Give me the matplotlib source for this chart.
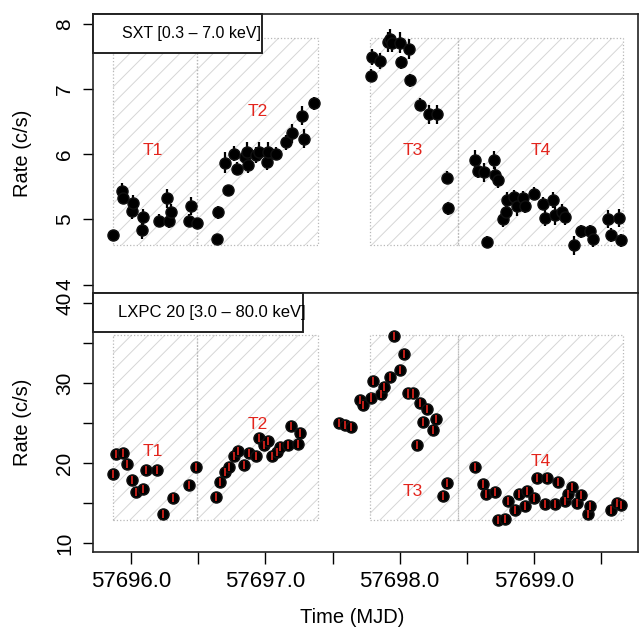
import numpy as np
import matplotlib
matplotlib.use("Agg")
import matplotlib.pyplot as plt
from matplotlib.patches import Rectangle

plt.rcParams['font.family'] = ['Liberation Sans', 'DejaVu Sans']
plt.rcParams['hatch.linewidth'] = 0.7

# SXT light curve (0.3 - 7.0 keV)
sxt_t = [57695.868, 57695.930, 57695.943, 57696.005, 57696.017, 57696.080, 57696.090,
         57696.210, 57696.270, 57696.285, 57696.300, 57696.430, 57696.447, 57696.490,
         57696.640, 57696.650, 57696.700, 57696.720, 57696.770, 57696.790, 57696.850,
         57696.860, 57696.870, 57696.930, 57696.950, 57697.010, 57697.020, 57697.080,
         57697.150, 57697.200, 57697.275, 57697.290, 57697.360,
         57697.785, 57697.797, 57697.850, 57697.910, 57697.930, 57697.945, 57698.000,
         57698.010, 57698.070, 57698.080, 57698.150, 57698.220, 57698.280, 57698.350,
         57698.360, 57698.560, 57698.580, 57698.630, 57698.650, 57698.700, 57698.710,
         57698.730, 57698.770, 57698.790, 57698.800, 57698.850, 57698.870, 57698.920,
         57698.930, 57699.000, 57699.070, 57699.080, 57699.140, 57699.160, 57699.210,
         57699.230, 57699.300, 57699.350, 57699.420, 57699.440, 57699.550, 57699.570,
         57699.630, 57699.645]
sxt_rate = [4.76, 5.44, 5.33, 5.13, 5.25, 4.84, 5.04,
            4.98, 5.32, 4.97, 5.12, 4.98, 5.20, 4.94,
            4.70, 5.11, 5.87, 5.45, 6.01, 5.78, 5.96,
            6.04, 5.83, 5.99, 6.04, 5.88, 6.04, 6.01,
            6.18, 6.32, 6.59, 6.24, 6.78,
            7.20, 7.49, 7.43, 7.72, 7.77, 7.70, 7.71,
            7.41, 7.61, 7.13, 6.76, 6.61, 6.61, 5.64,
            5.17, 5.91, 5.74, 5.72, 4.66, 5.91, 5.68,
            5.60, 5.00, 5.11, 5.30, 5.35, 5.20, 5.32,
            5.21, 5.39, 5.24, 5.02, 5.30, 5.07, 5.12,
            5.03, 4.60, 4.82, 4.82, 4.70, 5.00, 4.76,
            5.02, 4.68]
sxt_err = [0.08, 0.12, 0.10, 0.12, 0.12, 0.14, 0.12,
           0.10, 0.15, 0.10, 0.12, 0.10, 0.14, 0.08,
           0.08, 0.10, 0.16, 0.08, 0.12, 0.10, 0.14,
           0.14, 0.12, 0.12, 0.14, 0.12, 0.14, 0.10,
           0.12, 0.15, 0.15, 0.14, 0.10,
           0.10, 0.12, 0.12, 0.15, 0.15, 0.14, 0.16,
           0.10, 0.15, 0.10, 0.10, 0.14, 0.14, 0.10,
           0.10, 0.16, 0.10, 0.14, 0.08, 0.14, 0.12,
           0.12, 0.12, 0.12, 0.12, 0.10, 0.15, 0.12,
           0.12, 0.10, 0.10, 0.12, 0.12, 0.15, 0.12,
           0.12, 0.14, 0.10, 0.10, 0.12, 0.14, 0.10,
           0.14, 0.10]

# LAXPC 20 light curve (3.0 - 80.0 keV)
lx_t = [57695.868, 57695.890, 57695.940, 57695.970, 57696.010, 57696.040, 57696.090,
        57696.110, 57696.190, 57696.240, 57696.310, 57696.430, 57696.480,
        57696.630, 57696.660, 57696.700, 57696.730, 57696.770, 57696.800, 57696.840,
        57696.880, 57696.930, 57696.950, 57696.990, 57697.020, 57697.050, 57697.085,
        57697.110, 57697.170, 57697.190, 57697.245, 57697.260,
        57697.550, 57697.590, 57697.635, 57697.705, 57697.730, 57697.785, 57697.800,
        57697.860, 57697.880, 57697.930, 57697.955, 57698.000, 57698.030, 57698.060,
        57698.100, 57698.130, 57698.150, 57698.170, 57698.200, 57698.245, 57698.270,
        57698.320, 57698.350,
        57698.560, 57698.620, 57698.640, 57698.710, 57698.735, 57698.785, 57698.810,
        57698.860, 57698.885, 57698.930, 57698.950, 57699.000, 57699.020, 57699.080,
        57699.100, 57699.160, 57699.180, 57699.230, 57699.250, 57699.280, 57699.320,
        57699.350, 57699.400, 57699.420, 57699.570, 57699.615, 57699.645]
lx_rate = [18.6, 21.1, 21.3, 19.9, 17.9, 16.4, 16.75,
           19.2, 19.2, 13.6, 15.6, 17.3, 19.5,
           15.8, 17.6, 18.9, 19.5, 20.9, 21.5, 19.75,
           21.3, 20.9, 23.2, 22.3, 22.8, 20.9, 21.4,
           22.0, 22.25, 24.6, 22.4, 23.8,
           25.0, 24.75, 24.5, 27.9, 27.25, 28.2, 30.3,
           28.6, 29.5, 30.7, 35.9, 31.6, 33.6, 28.7,
           28.7, 22.25, 27.5, 25.2, 26.8, 24.1, 25.5,
           15.9, 17.5,
           19.5, 17.4, 16.1, 16.4, 12.9, 13.0, 15.3,
           14.1, 16.2, 14.6, 16.5, 15.6, 18.1, 14.9,
           18.2, 14.9, 17.7, 15.3, 16.2, 17.0, 15.0,
           16.0, 13.7, 14.6, 14.2, 15.0, 14.8]
lx_err = [0.5] * len(lx_t)

regions = ["T1", "T2", "T3", "T4"]
reg_start = [57695.866, 57696.49, 57697.78, 57698.435]
reg_end = [57696.49, 57697.39, 57698.435, 57699.66]
sxt_box = [4.61, 7.78]
lx_box = [12.9, 36.0]
sxt_lab = [(57696.16, 6.05), (57696.94, 6.65), (57698.10, 6.05), (57699.05, 6.05)]
lx_lab = [(57696.16, 21.5), (57696.94, 24.8), (57698.10, 16.5), (57699.05, 20.2)]

fig = plt.figure(figsize=(6.42, 6.28), dpi=100)
ax1 = fig.add_axes([0.1449, 0.5334, 0.849, 0.4443])
ax2 = fig.add_axes([0.1449, 0.1210, 0.849, 0.4124], sharex=ax1)

red = '#e3241c'


def shade(ax, ylo, yhi):
    for a, b in zip(reg_start, reg_end):
        ax.add_patch(Rectangle((a, ylo), b - a, yhi - ylo, facecolor='none',
                               edgecolor='#d6d6d6', hatch='//', lw=0, zorder=0))
        ax.add_patch(Rectangle((a, ylo), b - a, yhi - ylo, facecolor='none',
                               edgecolor='#b8b8b8', ls=':', lw=0.9, zorder=0.5))


shade(ax1, *sxt_box)
shade(ax2, *lx_box)

ax1.errorbar(sxt_t, sxt_rate, yerr=sxt_err, fmt='o', color='black', ms=8,
             mfc='black', mec='#111111', ecolor='black', elinewidth=1.6, capsize=0,
             zorder=3)
ax2.plot(lx_t, lx_rate, 'o', color='black', ms=8, mec='#111111', zorder=3)
ax2.errorbar(lx_t, lx_rate, yerr=lx_err, fmt='none', ecolor=red,
             elinewidth=1.2, capsize=0, zorder=4)

for (x, y), name in zip(sxt_lab, regions):
    ax1.text(x, y, name, color=red, fontsize=12.5, ha='center', va='center')
for (x, y), name in zip(lx_lab, regions):
    ax2.text(x, y, name, color=red, fontsize=12.5, ha='center', va='center')

# panel title boxes
ax1.add_patch(Rectangle((0, 0.86), 0.31, 0.14, transform=ax1.transAxes,
                        facecolor='white', edgecolor='#222222', lw=1.4, zorder=5,
                        clip_on=False))
ax1.text(0.18, 0.93, "SXT [0.3 \u2013 7.0 keV]", transform=ax1.transAxes,
         fontsize=11.5, ha='center', va='center', zorder=6)
ax2.add_patch(Rectangle((0, 0.849), 0.385, 0.151, transform=ax2.transAxes,
                        facecolor='white', edgecolor='#222222', lw=1.4, zorder=5,
                        clip_on=False))
ax2.text(0.218, 0.925, "LXPC 20 [3.0 \u2013 80.0 keV]", transform=ax2.transAxes,
         fontsize=12, ha='center', va='center', zorder=6)

ax1.set_xlim(57695.717, 57699.775)
ax1.set_ylim(3.87, 8.15)
ax2.set_ylim(8.9, 41.25)

ax1.set_yticks([4, 5, 6, 7, 8])
ax2.set_yticks([10, 15, 20, 25, 30, 35, 40])
ax2.set_yticklabels(['10', '', '20', '', '30', '', '40'])
ax2.set_xticks([57696.0, 57696.5, 57697.0, 57697.5, 57698.0, 57698.5, 57699.0, 57699.5])
ax2.set_xticklabels(['57696.0', '', '57697.0', '', '57698.0', '', '57699.0', ''])
ax1.tick_params(axis='x', bottom=False, labelbottom=False)

for ax in (ax1, ax2):
    ax.tick_params(axis='y', direction='out', length=7.5, width=1, labelsize=15,
                   labelrotation=90, pad=6)
    for lab in ax.get_yticklabels():
        lab.set_va('center')
    for s in ax.spines.values():
        s.set_linewidth(1.2)
        s.set_color('#222222')
    ax.set_ylabel("Rate (c/s)", fontsize=14.5)
    ax.yaxis.set_label_coords(-0.112, 0.5)
ax2.tick_params(axis='x', direction='out', length=8.5, width=1, labelsize=16, pad=5)
ax2.set_xlabel("Time (MJD)", fontsize=14.5)
ax2.xaxis.set_label_coords(0.475, -0.216)

fig.savefig("out.png", dpi=100)
